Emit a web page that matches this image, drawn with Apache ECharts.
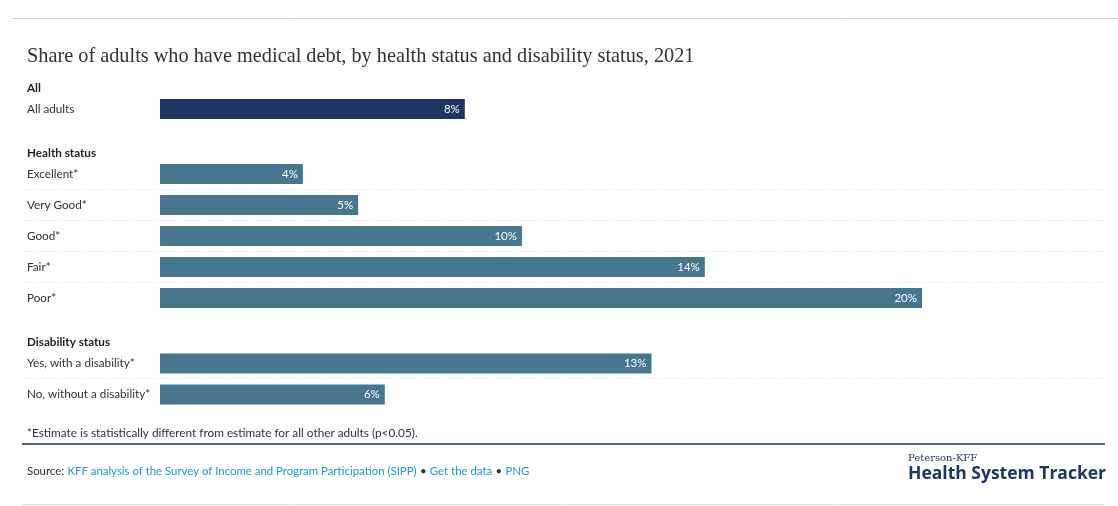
<!DOCTYPE html>
<html><head><meta charset="utf-8">
<script src="https://cdn.jsdelivr.net/npm/echarts@6/dist/echarts.min.js"></script>
<style>html,body{margin:0;padding:0;background:#fff}#c{width:1118px;height:506px}</style>
</head><body><div id="c"></div>
<script>
const titleText = 'Share of adults who have medical debt, by health status and disability status, 2021';
const groupNames = ['All', 'Health status', 'Disability status'];
const allCats = ['All adults'];
const allVals = [8.0];
const healthCats = ['Excellent*', 'Very Good*', 'Good*', 'Fair*', 'Poor*'];
const healthVals = [3.75, 5.2, 9.5, 14.3, 20.0];
const disCats = ['Yes, with a disability*', 'No, without a disability*'];
const disVals = [12.9, 5.9];
const footnote = '*Estimate is statistically different from estimate for all other adults (p<0.05).';

const FONT = 'Lato';
const chart = echarts.init(document.getElementById('c'), null, {renderer: 'canvas'});
const groupsData = [[allCats, allVals, '#1f3564'], [healthCats, healthVals, '#46778e'], [disCats, disVals, '#46778e']];
const gridTops = [93.5, 158.5, 348];
const grids = [], xAxes = [], yAxes = [], series = [];
groupsData.forEach((g, i) => {
  grids.push({left: 160, right: 196, top: gridTops[i], height: g[0].length * 31, containLabel: false});
  xAxes.push({type: 'value', gridIndex: i, min: 0, max: 20, show: false});
  yAxes.push({type: 'category', gridIndex: i, data: g[0], inverse: true,
    axisLine: {show: false}, axisTick: {show: false}, splitLine: {show: false},
    axisLabel: {align: 'left', margin: 133, color: '#333', fontFamily: FONT, fontSize: 11.7, padding: [3, 0, 0, 0]}});
  series.push({type: 'bar', xAxisIndex: i, yAxisIndex: i, data: g[1], barWidth: 20,
    itemStyle: {color: g[2]}, silent: true,
    label: {show: true, position: 'insideRight', distance: 5, color: '#fff', fontFamily: FONT, fontSize: 11.5,
      padding: [2, 0, 0, 0], formatter: p => Math.round(p.value) + '%'}});
});
const headerY = [88, 153, 342];
const seps = [189, 220, 251, 282, 378];
const graphic = [
  {type: 'line', shape: {x1: 12, y1: 18.5, x2: 1118, y2: 18.5}, style: {stroke: '#c9ccd6', lineWidth: 1}},
  {type: 'text', x: 27, y: 57, style: {text: titleText, font: '20.3px "Liberation Serif"', fill: '#333', verticalAlign: 'middle'}},
  {type: 'line', shape: {x1: 22, y1: 444, x2: 1105, y2: 444}, style: {stroke: '#1f3564', lineWidth: 1.5}},
  {type: 'line', shape: {x1: 22, y1: 504.5, x2: 1105, y2: 504.5}, style: {stroke: '#dddddd', lineWidth: 1}},
  {type: 'text', x: 27, y: 433, style: {text: footnote, font: '11.8px ' + FONT, fill: '#333', verticalAlign: 'middle'}},
  {type: 'text', x: 27, y: 471, style: {
    text: '{a|Source:} {b|KFF analysis of the Survey of Income and Program Participation (SIPP)} {a|•} {b|Get the data} {a|•} {b|PNG}',
    verticalAlign: 'middle',
    rich: {a: {fontFamily: FONT, fontSize: 11.4, fill: '#333'}, b: {fontFamily: FONT, fontSize: 11.4, fill: '#1a9ad6'}}}},
  {type: 'text', x: 908, y: 458, style: {text: 'Peterson-KFF', font: '10px "DejaVu Serif"', fill: '#1f3564', verticalAlign: 'middle'}},
  {type: 'text', x: 908, y: 474, style: {text: 'Health System Tracker', font: 'bold 17.5px "Open Sans"', fill: '#1f3564', verticalAlign: 'middle'}}
];
groupNames.forEach((n, i) => graphic.push({type: 'text', x: 27, y: headerY[i],
  style: {text: n, font: 'bold 11.7px ' + FONT, fill: '#222', verticalAlign: 'middle'}}));
seps.forEach(y => graphic.push({type: 'line', shape: {x1: 25, y1: y + 0.5, x2: 1105, y2: y + 0.5},
  style: {stroke: '#dcdcdc', lineWidth: 1, lineDash: [1, 2]}}));
chart.setOption({animation: false, grid: grids, xAxis: xAxes, yAxis: yAxes, series: series, graphic: graphic});
</script></body></html>
